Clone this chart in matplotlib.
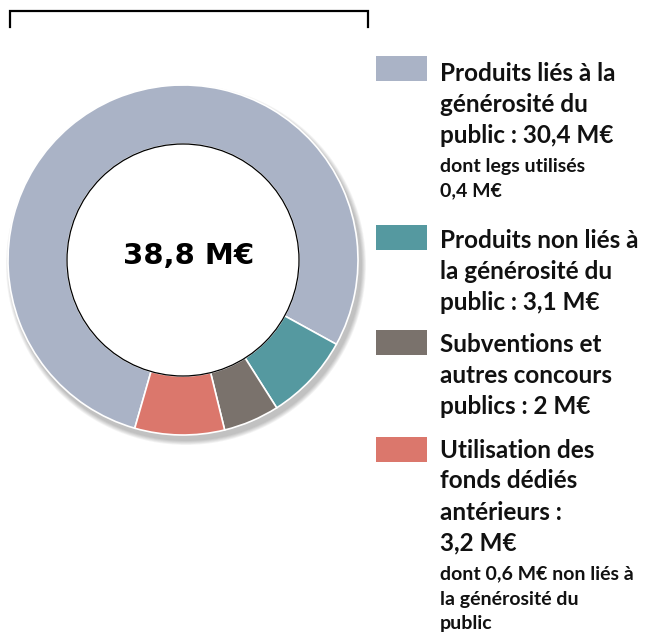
import matplotlib.pyplot as plt
from matplotlib.patches import Circle

# data
labels = ["Produits liés à la\ngénérosité du\npublic : 30,4 M€",
          "Produits non liés à\nla générosité du\npublic : 3,1 M€",
          "Subventions et\nautres concours\npublics : 2 M€",
          "Utilisation des\nfonds dédiés\nantérieurs :\n3,2 M€"]
notes = ["dont legs utilisés\n0,4 M€", "", "",
         "dont 0,6 M€ non liés à\nla générosité du\npublic"]
values = [30.4, 3.1, 2.0, 3.2]
colors = ["#AAB3C6", "#5599A0", "#7A726C", "#DB776C"]
total_label = "38,8 M€"

W, H = 668, 644
fig = plt.figure(figsize=(W / 100, H / 100), dpi=100)
ax = fig.add_axes([0, 0, 1, 1])

cx, cy, R, r_in = 183, H - 260, 175, 116

# soft shadow bottom-right
for k in range(6):
    ax.add_patch(Circle((cx + 3, cy - 5), R + 1 + k * 0.8, color="black",
                        alpha=0.045, lw=0, zorder=0))

ax.pie(values, colors=colors, startangle=-106, counterclock=False,
       center=(cx, cy), radius=R,
       wedgeprops=dict(width=R - r_in, edgecolor="white", linewidth=1.2))
ax.add_patch(Circle((cx, cy), r_in, facecolor="white", edgecolor="black",
                    lw=0.9, zorder=5))
ax.text(cx + 6, H - 256, total_label, ha="center", va="center", fontsize=21,
        fontweight="bold", family="DejaVu Sans", zorder=6)

# bracket at top
ax.plot([10, 10, 368, 368], [H - 27, H - 11, H - 11, H - 27],
        color="black", lw=1.6, solid_joinstyle="miter")

# legend
sq_y = [68, 237, 342, 449]
txt_y = [73, 240, 344, 450]
main_step, note_step = 31, 25
for i, lab in enumerate(labels):
    ax.add_patch(plt.Rectangle((376, H - sq_y[i] - 12.5), 51, 25,
                               color=colors[i], lw=0))
    y = txt_y[i]
    for line in lab.split("\n"):
        ax.text(440, H - y, line, fontsize=17.5, fontweight="bold",
                family="Lato", va="center", ha="left", color="#111111")
        y += main_step
    if notes[i]:
        for line in notes[i].split("\n"):
            ax.text(440, H - y, line, fontsize=14, fontweight="bold",
                    family="Lato", va="center", ha="left", color="#111111")
            y += note_step

ax.set_xlim(0, W)
ax.set_ylim(0, H)
ax.set_aspect("auto")
ax.set_axis_off()
fig.savefig("out.png", dpi=100)
